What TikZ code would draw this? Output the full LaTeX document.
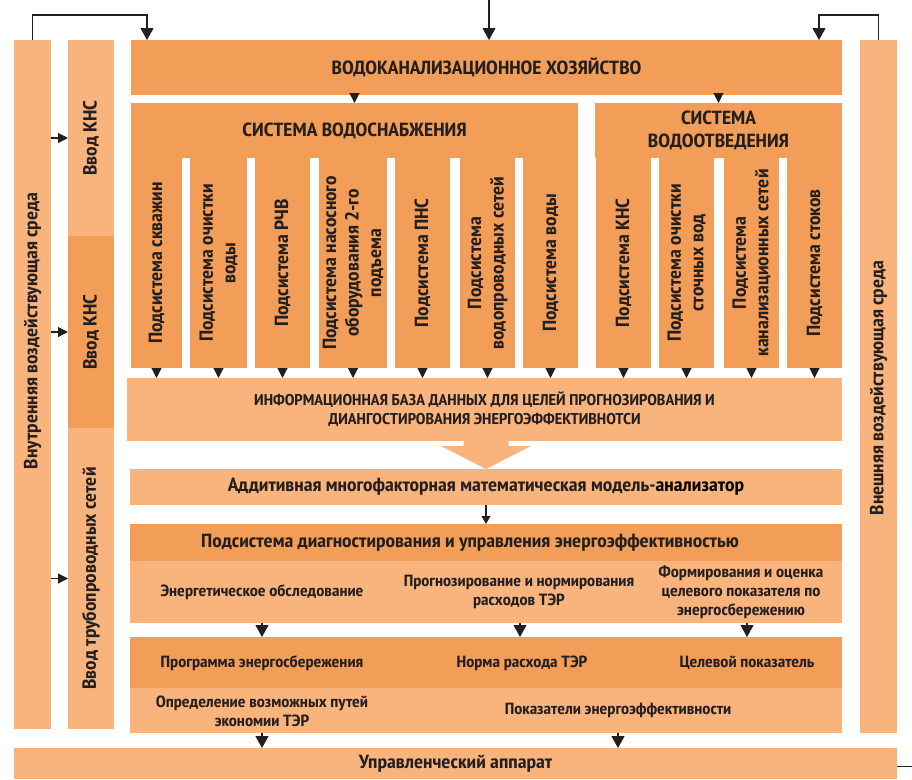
\documentclass[tikz,border=0pt]{standalone}
\usepackage{fontspec}
\setmainfont{PT Sans Narrow}[FakeStretch=1.12]
\usetikzlibrary{arrows.meta,calc}
\definecolor{deep}{RGB}{242,157,88}
\definecolor{pale}{RGB}{249,180,125}
\definecolor{ink}{RGB}{35,31,32}

\begin{document}
\begin{tikzpicture}[x=1pt,y=-1pt,
  block/.style={inner sep=0pt,outer sep=0pt,text=ink,align=center,
                font=\fontsize{19}{22.5}\selectfont\bfseries},
  dark/.style={block,fill=deep},
  light/.style={block,fill=pale},
  upright/.style={block,rotate=90},
  caps/.style={block,font=\fontsize{15.6}{19}\selectfont\bfseries},
  small/.style={block,font=\fontsize{16.2}{19}\selectfont\bfseries},
  tip/.style={draw=ink,line width=1.1pt,-{Triangle[length=10pt,width=10pt]}},
  bigtip/.style={draw=ink,line width=1.1pt,-{Triangle[length=12pt,width=13pt]}}
]
\useasboundingbox (0,0) rectangle (912,779);

% Side columns
\node[light,minimum width=37pt,minimum height=689pt] (inenv) at (32.5,384.5) {};
\node[upright] at (32.5,331) {Внутренняя воздействующая среда};
\node[light,minimum width=37pt,minimum height=693pt] (exenv) at (878.5,386.5) {};
\node[upright] at (878.5,388) {Внешняя воздействующая среда};
\node[light,upright,minimum width=196pt,minimum height=46pt] (kns1) at (91,138) {Ввод КНС};
\node[dark,upright,minimum width=192pt,minimum height=46pt] (kns2) at (91,332) {Ввод КНС};
\node[light,upright,minimum width=301pt,minimum height=46pt] (pipes) at (91,578.5) {Ввод трубопроводных сетей};
% rotated nodes: their north side faces left
\foreach \n in {kns1,kns2,pipes}
  \draw[tip] (inenv.east |- \n.center) -- (\n.north);

% Top level
\node[dark,minimum width=711pt,minimum height=55pt] (vkh) at (486.5,67.5) {ВОДОКАНАЛИЗАЦИОННОЕ ХОЗЯЙСТВО};
\coordinate (top) at (489,0);
\draw[bigtip] (top) -- (top |- vkh.north);
\draw[bigtip] (inenv.north) -- ++(0,-25) -| ([xshift=16pt]vkh.north west);
\draw[bigtip] (exenv.north) -- ++(0,-25) -| ([xshift=-23pt]vkh.north east);

\node[dark,minimum width=447pt,minimum height=55pt] (supply) at (354.5,130.5) {СИСТЕМА ВОДОСНАБЖЕНИЯ};
\node[dark,minimum width=247pt,minimum height=55pt] (drain) at (718.5,130.5) {СИСТЕМА\\ВОДООТВЕДЕНИЯ};
\draw[tip] (supply.north |- vkh.south) -- (supply.north);
\draw[tip] (drain.north |- vkh.south) -- (drain.north);

% Subsystems (centre x / width / text)
\node[caps,fill=pale,minimum width=715pt,minimum height=63pt] (info) at (484.5,409.5)
  {ИНФОРМАЦИОННАЯ БАЗА ДАННЫХ ДЛЯ ЦЕЛЕЙ ПРОГНОЗИРОВАНИЯ И\\ДИАНГОСТИРОВАНИЯ ЭНЕРГОЭФФЕКТИВНОТСИ};
\foreach \cx/\w/\txt [count=\i] in {
  156.5/51/{Подсистема скважин},
  218.5/57/{Подсистема очистки\\воды},
  282.5/55/{Подсистема РЧВ},
  353/68/{Подсистема насосного\\оборудования 2-го\\подъема},
  422.5/55/{Подсистема ПНС},
  487.5/55/{Подсистема\\водопроводных сетей},
  550.5/55/{Подсистема воды},
  623.5/55/{Подсистема КНС},
  686.5/55/{Подсистема очистки\\сточных вод},
  751.5/55/{Подсистема\\канализационных сетей},
  814.5/55/{Подсистема стоков}}
{
  \node[dark,upright,minimum width=210pt,minimum height=\w pt] (sub\i) at (\cx,263) {\txt};
  \draw[tip] (sub\i.west) -- (sub\i.west |- info.north);
}

% Model and diagnostics
\node[light,minimum width=712pt,minimum height=36pt] (model) at (486,487)
  {Аддитивная многофакторная математическая модель-{\color{black}анализатор}};
\fill[pale] (model.north) -- ++(-45,-23) -- ++(22.5,0) -- ++(0,-7) -- ++(45,0)
  -- ++(0,7) -- ++(22.5,0) -- cycle;
\node[dark,minimum width=712pt,minimum height=37pt] (diag) at (486,542.5) {};
\node[block] (diagtitle) at (470,542.5)
  {Подсистема диагностирования и управления энергоэффективностью};
\draw[draw=ink,line width=1.1pt,-{Triangle[length=8pt,width=9pt]}] (model.south) -- (diag.north);
\node[light,minimum width=712pt,minimum height=62pt] (diagbody) at (486,592) {};
\node[small] (survey) at (262,592) {Энергетическое обследование};
\node[small] (norming) at (519,592) {Прогнозирование и нормирования\\расходов ТЭР};
\node[small] (goal) at (741,592) {Формирования и оценка\\целевого показателя по\\энергосбережению};

\node[dark,minimum width=712pt,minimum height=51pt] (result) at (486,662.5) {};
\node[small] (program) at (262,663) {Программа энергосбережения};
\node[small] (rate) at (522,663) {Норма расхода ТЭР};
\node[small] (target) at (747,663) {Целевой показатель};
\draw[bigtip] (survey |- diagbody.south) -- (survey |- result.north);
\draw[bigtip] ([xshift=1pt]norming.south |- diagbody.south) -- ([xshift=1pt]norming.south |- result.north);
\draw[bigtip] (target |- diagbody.south) -- (target |- result.north);

\node[light,minimum width=712pt,minimum height=45pt] (resbody) at (486,710.5) {};
\node[small] (ways) at (262,711) {Определение возможных путей\\экономии ТЭР};
\node[small] (kpi) at (618,710) {Показатели энергоэффективности};

% Management
\node[light,minimum width=883pt,minimum height=31pt] (mgmt) at (455.5,763.5) {Управленческий аппарат};
\draw[bigtip] (ways |- resbody.south) -- (ways |- mgmt.north);
\draw[bigtip] (kpi |- resbody.south) -- (kpi |- mgmt.north);
\coordinate (edge) at (912,766);
\draw[ink,line width=1pt] (mgmt.east |- edge) -- (edge);
\end{tikzpicture}
\end{document}
